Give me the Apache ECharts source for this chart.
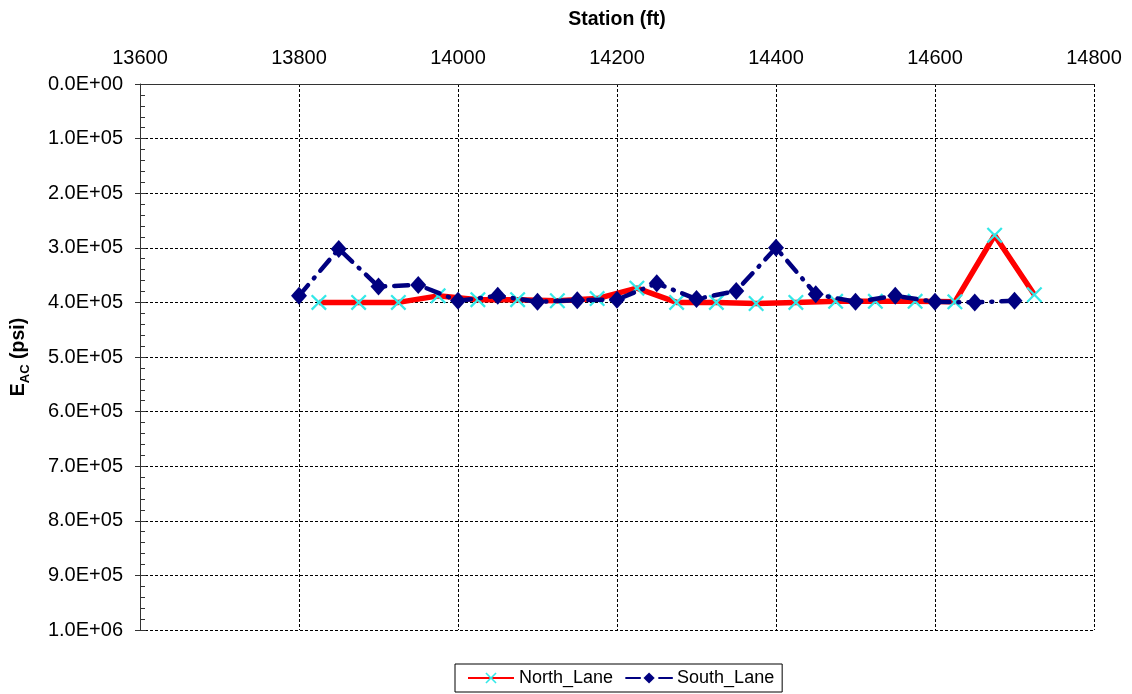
<!DOCTYPE html>
<html>
<head>
<meta charset="utf-8">
<script src="https://cdn.jsdelivr.net/npm/echarts@6/dist/echarts.min.js"></script>
<style>
  html, body { margin: 0; padding: 0; background: #fff; }
  #chart { width: 1132px; height: 694px; }
</style>
</head>
<body>
<div id="chart"></div>
<script>
// station (ft) and E_AC (psi)
var northStations = [13825, 13875, 13925, 13975, 14025, 14075, 14125, 14175, 14225, 14275,
                     14325, 14375, 14425, 14475, 14525, 14575, 14625, 14675, 14725];
var northValues = [4.0e5, 4.0e5, 4.0e5, 3.88e5, 3.95e5, 3.95e5, 3.97e5, 3.93e5, 3.74e5, 4.0e5,
                   4.0e5, 4.02e5, 4.0e5, 3.98e5, 3.98e5, 3.98e5, 3.99e5, 2.77e5, 3.86e5];
var southStations = [13800, 13850, 13900, 13950, 14000, 14050, 14100, 14150, 14200, 14250,
                     14300, 14350, 14400, 14450, 14500, 14550, 14600, 14650, 14700];
var southValues = [3.88e5, 3.02e5, 3.71e5, 3.68e5, 3.97e5, 3.88e5, 3.99e5, 3.96e5, 3.95e5, 3.65e5,
                   3.94e5, 3.79e5, 3.0e5, 3.85e5, 3.99e5, 3.88e5, 3.99e5, 4.0e5, 3.97e5];
var yTickLabels = ['0.0E+00', '1.0E+05', '2.0E+05', '3.0E+05', '4.0E+05', '5.0E+05',
                   '6.0E+05', '7.0E+05', '8.0E+05', '9.0E+05', '1.0E+06'];

function pairs(xs, ys) {
    var out = [];
    for (var i = 0; i < xs.length; i++) out.push([xs[i], ys[i]]);
    return out;
}

var xMark = 'path://M0,1 L1,0 L5,4 L9,0 L10,1 L6,5 L10,9 L9,10 L5,6 L1,10 L0,9 L4,5 Z';
var font = 'Liberation Sans, Arial, sans-serif';
var dashGrid = { color: '#000', type: [3, 2], width: 1 };

var chart = echarts.init(document.getElementById('chart'));

var option = {
    animation: false,
    textStyle: { fontFamily: font },
    grid: { left: 140, right: 38, top: 84, bottom: 64 },
    legend: {
        left: 455, bottom: 2,
        padding: [5, 8, 5, 12],
        borderColor: '#000', borderWidth: 1,
        itemWidth: 46, itemHeight: 14, itemGap: 12,
        textStyle: { fontSize: 18, color: '#000', fontFamily: font },
        data: ['North_Lane', 'South_Lane']
    },
    xAxis: {
        type: 'value',
        position: 'top',
        min: 13600, max: 14800, interval: 200,
        name: 'Station (ft)',
        nameLocation: 'middle',
        nameGap: 54,
        nameTextStyle: { fontSize: 19.5, fontWeight: 'bold', color: '#000', fontFamily: font },
        axisLine: { lineStyle: { color: '#333' } },
        axisTick: { show: false },
        axisLabel: {
            fontSize: 20, color: '#000', margin: 16, fontFamily: font,
            formatter: function (v) { return String(v); }
        },
        splitLine: { show: true, lineStyle: dashGrid }
    },
    yAxis: [
        {
            type: 'value',
            inverse: true,
            min: 0, max: 1e6, interval: 1e5,
            name: '{b|E}{s|AC}{b| (psi)}',
            nameLocation: 'middle',
            nameGap: 108,
            nameRotate: 90,
            nameTextStyle: {
                rich: {
                    b: { fontSize: 19.5, fontWeight: 'bold', color: '#000', fontFamily: font, lineHeight: 26 },
                    s: { fontSize: 13, fontWeight: 'bold', color: '#000', fontFamily: font, lineHeight: 26, verticalAlign: 'bottom', padding: [9, 0, 0, 0] }
                }
            },
            axisLine: { show: true, lineStyle: { color: '#333' } },
            axisTick: { show: true, inside: false, length: 5, lineStyle: { color: '#333' } },
            axisLabel: {
                fontSize: 20, color: '#000', margin: 17, fontFamily: font,
                formatter: function (v) { return yTickLabels[Math.round(v / 1e5)]; }
            },
            splitLine: { show: true, lineStyle: dashGrid }
        },
        {
            // same scale again, only to draw the inner major and minor ticks
            type: 'value',
            inverse: true,
            position: 'left',
            min: 0, max: 1e6, interval: 1e5,
            axisLine: { show: false },
            axisTick: { show: true, inside: true, length: 6, lineStyle: { color: '#333' } },
            minorTick: { show: true, splitNumber: 5, length: 5, lineStyle: { color: '#333' } },
            axisLabel: { show: false },
            splitLine: { show: false }
        }
    ],
    series: [
        {
            name: 'North_Lane',
            type: 'line',
            data: pairs(northStations, northValues),
            symbol: xMark,
            symbolSize: 16,
            itemStyle: { color: '#33e8e8' },
            lineStyle: { color: '#ff0000', width: 5.5 },
            z: 2
        },
        {
            name: 'South_Lane',
            type: 'line',
            data: pairs(southStations, southValues),
            symbol: 'diamond',
            symbolSize: [16, 18],
            itemStyle: { color: '#000080' },
            lineStyle: { color: '#000080', width: 4.5, type: [14, 9, 1, 9], cap: 'round' },
            z: 3
        }
    ]
};

chart.setOption(option);
</script>
</body>
</html>
